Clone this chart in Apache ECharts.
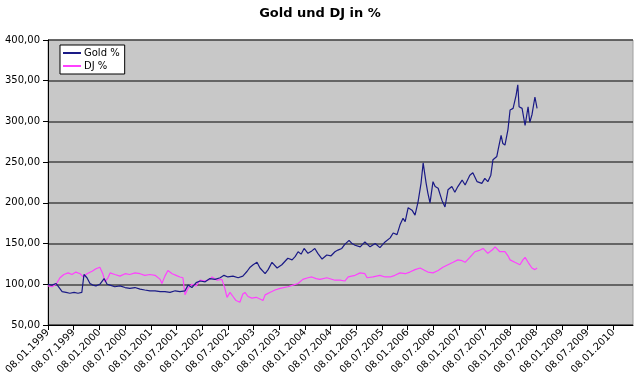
<!DOCTYPE html>
<html>
<head>
<meta charset="utf-8">
<script src="https://cdn.jsdelivr.net/npm/echarts@6/dist/echarts.min.js"></script>
<style>
html,body{margin:0;padding:0;background:#fff;}
#chart{width:640px;height:379px;}
</style>
</head>
<body>
<div id="chart"></div>
<script>
// Time positions are months since 08.01.1999
var titleText = 'Gold und DJ in %';
var seriesNames = ['Gold %', 'DJ %'];
var yTicks = [50, 100, 150, 200, 250, 300, 350, 400];
var xTickMonths = [0,6,12,18,24,30,36,42,48,54,60,66,72,78,84,90,96,102,108,114,120,126,132];
var xTickLabels = ['08.01.1999','08.07.1999','08.01.2000','08.07.2000','08.01.2001','08.07.2001','08.01.2002','08.07.2002','08.01.2003','08.07.2003','08.01.2004','08.07.2004','08.01.2005','08.07.2005','08.01.2006','08.07.2006','08.01.2007','08.07.2007','08.01.2008','08.07.2008','08.01.2009','08.07.2009','08.01.2010'];

var goldMonths = [0,0.9,1.9,2.3,3.3,4.2,5.1,6.1,7.0,7.9,8.4,9.1,9.8,10.5,11.2,12.1,13.1,13.8,14.5,15.6,16.8,18.0,19.1,20.3,21.5,22.6,23.8,25.0,26.2,27.3,28.5,29.7,30.8,32.0,32.7,33.6,34.6,35.5,36.7,37.8,39.0,40.2,41.1,42.0,43.2,44.4,45.5,46.5,47.2,47.9,48.8,49.5,50.7,51.4,52.3,53.5,54.6,56.0,57.0,57.7,58.4,59.1,59.8,60.7,61.6,62.3,63.0,64.0,65.1,66.1,67.0,67.7,68.6,69.3,70.3,71.0,71.7,72.9,74.0,75.2,76.4,77.5,78.7,79.9,80.6,81.5,82.2,82.9,83.4,84.1,85.0,85.7,86.4,87.1,87.6,88.3,88.7,89.2,89.9,90.4,91.1,92.0,92.7,93.4,94.3,95.0,95.7,96.7,97.4,98.5,99.2,100.2,101.3,102.0,102.7,103.4,103.9,104.8,105.1,105.8,106.2,106.7,107.4,107.9,108.6,109.3,109.7,110.0,110.7,111.4,112.1,112.5,113.0,113.7,114.2];
var goldValues = [100,99,101,98,91,90,89,90,89,90,112,108,101,99,98,100,107,100,99,97,98,96,95,96,94,93,92,92,91,91,90,92,91,92,99,96,102,104,103,107,106,108,111,109,110,108,110,116,121,124,127,120,113,118,127,120,124,132,130,134,140,137,144,138,141,144,138,131,136,135,140,142,144,149,154,150,148,146,152,146,150,145,152,157,163,161,173,181,177,194,191,185,201,224,249,224,212,200,226,220,218,203,195,216,220,213,220,228,222,234,237,226,224,230,226,234,253,257,265,283,273,271,290,314,316,332,345,318,316,295,318,299,308,330,316];

var djMonths = [0,0.9,1.9,2.8,3.7,4.7,5.6,6.5,7.5,8.2,9.1,10.3,11.2,12.1,12.8,13.3,14.0,14.5,15.6,16.8,18.0,19.1,20.3,21.5,22.6,23.8,25.0,26.2,26.6,27.3,28.0,29.0,29.9,30.8,31.5,32.0,32.7,33.6,34.6,35.5,36.7,37.8,38.3,39.5,40.6,41.3,41.8,42.5,43.2,43.9,44.8,45.5,46.0,46.7,47.6,48.6,49.5,50.2,50.7,51.8,53.0,54.2,56.0,57.2,58.4,59.5,60.7,61.6,62.6,63.5,65.1,67.0,68.2,69.3,70.1,71.7,72.9,74.0,74.5,75.9,77.5,78.7,79.9,81.0,82.2,83.4,84.5,85.7,86.9,88.0,88.7,89.9,91.1,92.2,93.4,94.6,95.7,96.7,97.4,98.5,99.7,100.9,101.6,102.7,103.7,104.4,105.5,106.7,107.4,107.9,109.0,110.2,110.9,111.4,112.1,113.0,113.7,114.2];
var djValues = [98,97,100,108,112,114,112,115,113,109,113,116,119,121,113,103,108,114,112,110,113,112,114,113,111,112,111,106,101,110,117,113,111,109,108,87,95,100,98,105,104,106,109,105,106,95,84,90,85,80,78,88,90,85,83,84,82,80,87,90,93,95,97,99,101,106,108,109,107,106,108,105,105,104,109,111,114,113,108,109,111,109,109,111,114,113,115,118,120,117,115,114,117,121,124,127,130,129,127,133,140,142,144,138,142,146,140,140,135,130,127,124,130,133,127,120,118,120];

function pairs(xs, ys) { return xs.map(function (x, i) { return [x, ys[i]]; }); }

var FONT = 'DejaVu Sans';
var chart = echarts.init(document.getElementById('chart'), null, {renderer: 'canvas'});
chart.setOption({
  animation: false,
  backgroundColor: '#ffffff',
  textStyle: {fontFamily: FONT},
  title: {
    text: titleText,
    left: 'center',
    top: 2,
    textStyle: {fontFamily: FONT, fontSize: 13, fontWeight: 'bold', color: '#000'}
  },
  legend: {
    data: seriesNames,
    orient: 'vertical',
    left: 60,
    top: 45,
    backgroundColor: '#ffffff',
    borderColor: '#000',
    borderWidth: 1,
    borderRadius: 0,
    padding: [3, 5, 3, 3],
    itemGap: 3,
    itemWidth: 18,
    itemHeight: 2,
    icon: 'rect',
    textStyle: {fontFamily: FONT, fontSize: 10, color: '#000', padding: [0, 0, 0, -2]}
  },
  grid: {
    left: 48, right: 7, top: 40, bottom: 54,
    show: true,
    backgroundColor: '#c8c8c8',
    borderColor: '#a0a0a0',
    borderWidth: 1
  },
  xAxis: {
    type: 'value',
    min: 0,
    max: 136.6,
    interval: 6,
    axisLine: {show: true, onZero: false, lineStyle: {color: '#000', width: 1}},
    axisTick: {show: true, length: 5, customValues: xTickMonths, lineStyle: {color: '#000'}},
    splitLine: {show: false},
    axisLabel: {
      customValues: xTickMonths,
      rotate: 45,
      margin: 6,
      fontFamily: FONT,
      fontSize: 10,
      color: '#000',
      formatter: function (v) {
        var i = xTickMonths.indexOf(v);
        return i >= 0 ? xTickLabels[i] : '';
      }
    }
  },
  yAxis: {
    type: 'value',
    min: 50,
    max: 400,
    interval: 50,
    axisLine: {show: true, lineStyle: {color: '#000', width: 1}},
    axisTick: {show: true, length: 5, lineStyle: {color: '#000'}},
    splitLine: {show: true, lineStyle: {color: '#444', width: 1.5}},
    axisLabel: {
      margin: 8,
      fontFamily: FONT,
      fontSize: 10,
      color: '#000',
      formatter: function (v) { return v.toFixed(2).replace('.', ','); }
    }
  },
  series: [
    {
      name: seriesNames[0],
      type: 'line',
      data: pairs(goldMonths, goldValues),
      showSymbol: false,
      symbol: 'none',
      lineStyle: {color: '#1a1a86', width: 1.2},
      itemStyle: {color: '#1a1a86'},
      z: 3
    },
    {
      name: seriesNames[1],
      type: 'line',
      data: pairs(djMonths, djValues),
      showSymbol: false,
      symbol: 'none',
      lineStyle: {color: '#ff40ff', width: 1.2},
      itemStyle: {color: '#ff40ff'},
      z: 2
    }
  ]
});
</script>
</body>
</html>
